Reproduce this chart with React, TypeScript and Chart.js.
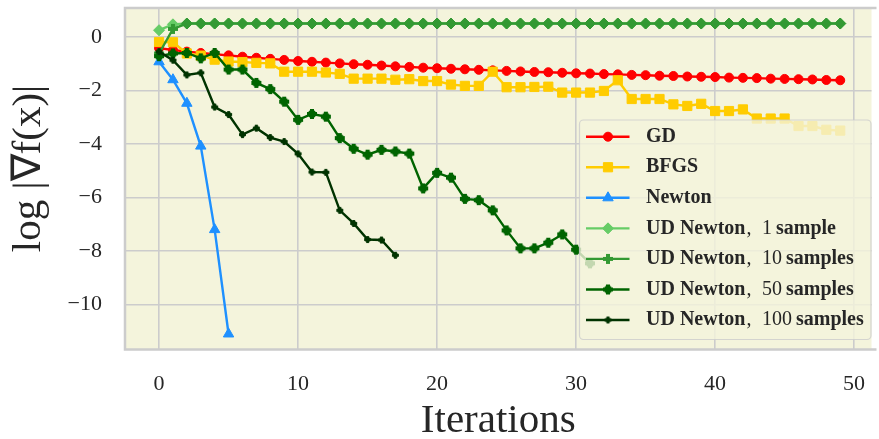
import React, { useEffect, useRef } from 'react';
import { Chart, registerables } from 'chart.js';

Chart.register(...registerables);

// ---------- data ----------
const LABELS = [
  'GD',
  'BFGS',
  'Newton',
  'UD Newton, 1 sample',
  'UD Newton, 10 samples',
  'UD Newton, 50 samples',
  'UD Newton, 100 samples',
];

const GD = [
  -0.42, -0.49, -0.55, -0.6, -0.65, -0.69, -0.74, -0.78, -0.82, -0.86,
  -0.9, -0.93, -0.96, -0.99, -1.02, -1.04, -1.07, -1.1, -1.12, -1.15,
  -1.17, -1.19, -1.21, -1.23, -1.25, -1.27, -1.29, -1.31, -1.32, -1.34,
  -1.36, -1.37, -1.39, -1.4, -1.42, -1.43, -1.45, -1.46, -1.48, -1.49,
  -1.5, -1.52, -1.53, -1.54, -1.56, -1.57, -1.58, -1.59, -1.61, -1.62,
];

const BFGS = [
  -0.19, -0.2, -0.62, -0.7, -0.85, -0.92, -0.94, -0.97, -0.99, -1.3,
  -1.3, -1.3, -1.33, -1.38, -1.56, -1.56, -1.56, -1.6, -1.58, -1.65,
  -1.65, -1.78, -1.83, -1.83, -1.3, -1.88, -1.88, -1.87, -1.86, -2.08,
  -2.08, -2.08, -2.02, -1.62, -2.32, -2.32, -2.32, -2.52, -2.58, -2.5,
  -2.77, -2.77, -2.71, -3.05, -3.05, -3.05, -3.33, -3.33, -3.47, -3.5,
];

const NEWTON = [-0.93, -1.6, -2.48, -4.08, -7.2, -11.1];

const UD_1 = [
  0.25, 0.47, 0.5, 0.5, 0.5, 0.5, 0.5, 0.5, 0.5, 0.5,
  0.5, 0.5, 0.5, 0.5, 0.5, 0.5, 0.5, 0.5, 0.5, 0.5,
  0.5, 0.5, 0.5, 0.5, 0.5, 0.5, 0.5, 0.5, 0.5, 0.5,
  0.5, 0.5, 0.5, 0.5, 0.5, 0.5, 0.5, 0.5, 0.5, 0.5,
  0.5, 0.5, 0.5, 0.5, 0.5, 0.5, 0.5, 0.5, 0.5, 0.5,
];

const UD_10 = [
  -0.62, 0.3, 0.5, 0.5, 0.5, 0.5, 0.5, 0.5, 0.5, 0.5,
  0.5, 0.5, 0.5, 0.5, 0.5, 0.5, 0.5, 0.5, 0.5, 0.5,
  0.5, 0.5, 0.5, 0.5, 0.5, 0.5, 0.5, 0.5, 0.5, 0.5,
  0.5, 0.5, 0.5, 0.5, 0.5, 0.5, 0.5, 0.5, 0.5, 0.5,
  0.5, 0.5, 0.5, 0.5, 0.5, 0.5, 0.5, 0.5, 0.5, 0.5,
];

const UD_50 = [
  -0.72, -0.62, -0.6, -0.8, -0.6, -1.22, -1.22, -1.72, -1.95, -2.42,
  -3.1, -2.88, -2.98, -3.78, -4.18, -4.4, -4.22, -4.28, -4.36, -5.66,
  -5.08, -5.26, -6.05, -6.1, -6.48, -7.23, -7.9, -7.9, -7.69, -7.38,
  -7.95, -8.46,
];

const UD_100 = [
  -0.55, -0.87, -1.42, -1.34, -2.62, -2.9, -3.65, -3.41, -3.76, -3.91,
  -4.37, -5.05, -5.06, -6.48, -6.97, -7.57, -7.59, -8.16,
];

const X_TICKS = [0, 10, 20, 30, 40, 50];
const Y_TICKS = [0, -2, -4, -6, -8, -10];

// ---------- styling ----------
const COLORS = ['#ff0000', '#ffcc00', '#1e90ff', '#66cc66', '#339933', '#006400', '#003300'];
const FONT = "'Liberation Serif', 'Times New Roman', serif";
const TEXT = '#262626';

function makeMarker(kind: string, color: string, size: number): HTMLCanvasElement {
  const c = document.createElement('canvas');
  const s = Math.ceil(size) + 2;
  c.width = s;
  c.height = s;
  const g = c.getContext('2d') as CanvasRenderingContext2D;
  g.fillStyle = color;
  const m = s / 2;
  const a = size / 2;
  const t = size * 0.2;
  if (kind === 'cog') {
    g.beginPath();
    g.arc(m, m, size * 0.4, 0, Math.PI * 2);
    g.fill();
  }
  g.fillRect(m - a, m - t, 2 * a, 2 * t);
  g.fillRect(m - t, m - a, 2 * t, 2 * a);
  return c;
}

function series(values: number[]) {
  return values.map((v, i) => ({ x: i, y: v }));
}

function zeroPad(s: any) {
  s.paddingTop = 0;
  s.paddingBottom = 0;
  s.paddingLeft = 0;
  s.paddingRight = 0;
}

export default function App() {
  const ref = useRef<HTMLCanvasElement | null>(null);

  useEffect(() => {
    const canvas = ref.current;
    if (!canvas) return;

    const plus10 = makeMarker('plus', COLORS[4], 10);
    const cog50 = makeMarker('cog', COLORS[5], 10);
    const cog100 = makeMarker('cog', COLORS[6], 7);

    const styles: any[] = [
      { pointStyle: 'circle', pointRadius: 4.5 },
      { pointStyle: 'rect', pointRadius: 6.5 },
      { pointStyle: 'triangle', pointRadius: 6 },
      { pointStyle: 'rectRot', pointRadius: 5.5 },
      {
        pointStyle: UD_10.map((_, i) => (i < 2 ? plus10 : 'rectRot')),
        pointRadius: 5.5,
      },
      { pointStyle: cog50, pointRadius: 5 },
      { pointStyle: cog100, pointRadius: 3.5 },
    ];
    const legendMarkers: any[] = ['circle', 'rect', 'triangle', 'rectRot', plus10, cog50, cog100];
    const allData = [GD, BFGS, NEWTON, UD_1, UD_10, UD_50, UD_100];

    const datasets = allData.map((vals, k) => ({
      label: LABELS[k],
      data: series(vals),
      borderColor: COLORS[k],
      backgroundColor: COLORS[k],
      pointBackgroundColor: COLORS[k],
      pointBorderColor: COLORS[k],
      pointBorderWidth: 1,
      borderWidth: 2.4,
      pointStyle: styles[k].pointStyle,
      pointRadius: styles[k].pointRadius,
      tension: 0,
      order: 6 - k,
    }));

    const drawShape = (ctx: CanvasRenderingContext2D, style: any, x: number, y: number, r: number, color: string) => {
      ctx.save();
      ctx.fillStyle = color;
      ctx.strokeStyle = color;
      ctx.lineWidth = 1;
      if (typeof style !== 'string') {
        ctx.drawImage(style, x - style.width / 2, y - style.height / 2);
        ctx.restore();
        return;
      }
      ctx.beginPath();
      if (style === 'circle') {
        ctx.arc(x, y, r, 0, Math.PI * 2);
      } else if (style === 'rect') {
        const s = r * Math.SQRT1_2;
        ctx.rect(x - s, y - s, 2 * s, 2 * s);
      } else if (style === 'triangle') {
        for (let i = 0; i < 3; i++) {
          const ang = (i * 2 * Math.PI) / 3;
          const px = x + Math.sin(ang) * r;
          const py = y - Math.cos(ang) * r;
          if (i === 0) ctx.moveTo(px, py);
          else ctx.lineTo(px, py);
        }
        ctx.closePath();
      } else if (style === 'rectRot') {
        ctx.moveTo(x, y - r);
        ctx.lineTo(x + r, y);
        ctx.lineTo(x, y + r);
        ctx.lineTo(x - r, y);
        ctx.closePath();
      }
      ctx.fill();
      ctx.stroke();
      ctx.restore();
    };

    const plugin = {
      id: 'decor',
      beforeDraw(chart: any) {
        const { ctx, chartArea: a } = chart;
        ctx.save();
        ctx.fillStyle = '#f4f4dc';
        ctx.fillRect(a.left, a.top, a.right - a.left, a.bottom - a.top);
        ctx.restore();
      },
      afterDraw(chart: any) {
        const { ctx, chartArea: a } = chart;
        // frame (right spine falls outside the picture)
        ctx.save();
        ctx.strokeStyle = '#cccccc';
        ctx.lineWidth = 2.5;
        ctx.beginPath();
        ctx.moveTo(a.right + 5, a.top);
        ctx.lineTo(a.left, a.top);
        ctx.lineTo(a.left, a.bottom);
        ctx.lineTo(a.right + 5, a.bottom);
        ctx.stroke();
        ctx.restore();

        // legend
        const bx = 579.5, by = 120, bw = 291.5, bh = 219.5, rad = 4;
        ctx.save();
        ctx.beginPath();
        ctx.moveTo(bx + rad, by);
        ctx.lineTo(bx + bw - rad, by);
        ctx.arcTo(bx + bw, by, bx + bw, by + rad, rad);
        ctx.lineTo(bx + bw, by + bh - rad);
        ctx.arcTo(bx + bw, by + bh, bx + bw - rad, by + bh, rad);
        ctx.lineTo(bx + rad, by + bh);
        ctx.arcTo(bx, by + bh, bx, by + bh - rad, rad);
        ctx.lineTo(bx, by + rad);
        ctx.arcTo(bx, by, bx + rad, by, rad);
        ctx.closePath();
        ctx.fillStyle = 'rgba(244,244,220,0.8)';
        ctx.fill();
        ctx.strokeStyle = 'rgba(204,204,204,0.8)';
        ctx.lineWidth = 1.2;
        ctx.stroke();

        const radii = [4.5, 6.5, 6, 5.5, 5.5, 5, 3.5];
        const boldF = `bold 20px ${FONT}`;
        const normF = `20px ${FONT}`;
        for (let k = 0; k < LABELS.length; k++) {
          const y = 136.7 + k * 30.55;
          ctx.strokeStyle = COLORS[k];
          ctx.lineWidth = 2.4;
          ctx.beginPath();
          ctx.moveTo(586, y);
          ctx.lineTo(629.5, y);
          ctx.stroke();
          drawShape(ctx, legendMarkers[k], 608, y, radii[k], COLORS[k]);

          ctx.fillStyle = TEXT;
          ctx.textBaseline = 'middle';
          ctx.textAlign = 'left';
          const label = LABELS[k];
          let x = 646;
          const parts = label.split(', ');
          ctx.font = boldF;
          ctx.fillText(parts[0], x, y);
          x += ctx.measureText(parts[0]).width;
          if (parts.length > 1) {
            ctx.font = normF;
            ctx.fillText(',', x + 1, y);
            const [num, word] = parts[1].split(' ');
            const nx = 762;
            ctx.fillText(num, nx, y);
            const nw = ctx.measureText(num).width;
            ctx.font = boldF;
            ctx.fillText(word, nx + nw + 4, y);
          }
        }
        ctx.restore();
      },
    };

    const chart = new Chart(canvas, {
      type: 'line',
      data: { datasets: datasets as any },
      options: {
        animation: false,
        responsive: false,
        maintainAspectRatio: false,
        devicePixelRatio: 1,
        layout: { padding: { left: 0, top: 8, right: 0, bottom: 0 } },
        plugins: { legend: { display: false }, tooltip: { enabled: false } },
        scales: {
          x: {
            type: 'linear',
            min: -2.45,
            max: 51.25,
            afterFit: (s: any) => {
              s.height = 89.5;
              zeroPad(s);
            },
            afterBuildTicks: (s: any) => {
              s.ticks = X_TICKS.map((v) => ({ value: v }));
            },
            ticks: {
              padding: 22,
              color: TEXT,
              font: { family: FONT, size: 22 },
              maxRotation: 0,
              callback: (v: any) => String(v),
            },
            grid: { color: '#cccccc', lineWidth: 1.6, drawTicks: false },
            border: { display: false },
            title: {
              display: true,
              text: 'Iterations',
              color: TEXT,
              font: { family: FONT, size: 41, lineHeight: 0.88 },
              padding: { top: 0, bottom: 0 },
            },
          },
          y: {
            type: 'linear',
            min: -11.68,
            max: 1.08,
            afterFit: (s: any) => {
              s.width = 125;
              zeroPad(s);
            },
            afterBuildTicks: (s: any) => {
              s.ticks = Y_TICKS.map((v) => ({ value: v }));
            },
            ticks: {
              padding: 23,
              color: TEXT,
              font: { family: FONT, size: 22 },
              callback: (v: any) => (v < 0 ? '\u2212' + String(Math.abs(v)) : String(v)),
            },
            grid: { color: '#cccccc', lineWidth: 1.6, drawTicks: false },
            border: { display: false },
            title: {
              display: true,
              text: '\u00a0\u00a0log |\u2207f(x)|',
              color: TEXT,
              font: { family: FONT, size: 41, lineHeight: 0.88 },
              padding: { top: 11, bottom: 0 },
            },
          },
        },
      },
      plugins: [plugin],
    } as any);

    return () => chart.destroy();
  }, []);

  return (
    <div style={{ position: 'absolute', left: 0, top: 0, width: 879, height: 439, background: '#ffffff' }}>
      <canvas ref={ref} width={879} height={439} style={{ display: 'block' }} />
    </div>
  );
}
